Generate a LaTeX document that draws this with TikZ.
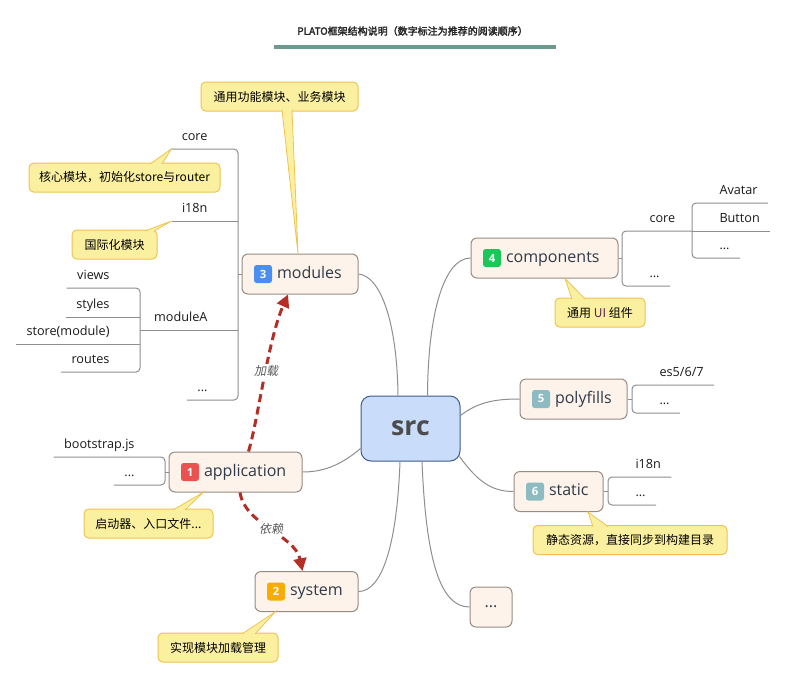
\documentclass[tikz,border=0pt]{standalone}
\usepackage{fontspec}
\setmainfont{Open Sans}
\newfontfamily\cjk{Noto Sans CJK SC}
\newfontfamily\cjkbf[FakeBold=2.5]{Noto Sans CJK SC}
\newfontfamily\cjkit[FakeSlant=0.2]{Noto Sans CJK SC}
\usetikzlibrary{positioning,calc,arrows.meta}

\definecolor{topicfill}{HTML}{FDF3EA}
\definecolor{topicline}{HTML}{978B83}
\definecolor{srcfill}{HTML}{C9DCF9}
\definecolor{srcline}{HTML}{3F5A8C}
\definecolor{notefill}{HTML}{FBF0A0}
\definecolor{noteline}{HTML}{EFC350}
\definecolor{branchgrey}{HTML}{8E8E8E}
\definecolor{linkred}{HTML}{B22E27}
\definecolor{titlebar}{HTML}{6A9990}
\definecolor{inktext}{HTML}{2F3A4A}
\definecolor{badgeA}{HTML}{E9524F}
\definecolor{badgeB}{HTML}{F7AD00}
\definecolor{badgeC}{HTML}{4A8EF2}
\definecolor{badgeD}{HTML}{1CC75A}
\definecolor{badgeE}{HTML}{8CBBC2}

\tikzset{every picture/.style={line width=0.75pt}}
\tikzset{
  topic/.style={draw=topicline, fill=topicfill, rounded corners=4.5pt, minimum height=30pt, inner sep=0pt},
  badge/.style={fill=#1, rounded corners=2pt, minimum size=13.5pt, inner sep=0pt, text=white, font=\fontsize{8.5}{10}\selectfont\bfseries},
  topictext/.style={inner sep=0pt, text height=9pt, text depth=3pt, text=inktext, font=\fontsize{12}{14}\selectfont},
  leaf/.style={inner xsep=7.5pt, inner ysep=6pt, text depth=0pt, text=black!90, font=\fontsize{9.5}{11}\selectfont},
  note/.style={draw=noteline, fill=notefill, rounded corners=3.5pt, minimum height=21.75pt, inner sep=0pt, font=\cjk\fontsize{9}{11}\selectfont},
  pointer/.style={draw=noteline, fill=notefill, line width=0.6pt},
  branch/.style={draw=branchgrey, line width=0.75pt},
  link/.style={draw=linkred, line width=2.25pt, dash pattern=on 6pt off 3.5pt, -{Triangle[length=9.5pt,width=9.5pt]}},
  linklabel/.style={fill=white, inner sep=1pt, text=black!65, font=\cjkit\fontsize{9}{11}\selectfont},
}

\begin{document}
\begin{tikzpicture}[x=0.75pt,y=0.75pt,yscale=-1,xscale=1]
	\useasboundingbox (0,0) rectangle (789,679);

	% title
	\node [font=\cjkbf\fontsize{7.5}{9}\selectfont, text=black!85] (title) at (412.5,31) {PLATO框架结构说明（数字标注为推荐的阅读顺序）};
	\fill [titlebar] (274,45) rectangle (556,49);

	% centre
	\node [draw=srcline, fill=srcfill, rounded corners=7.5pt, minimum width=74.25pt, minimum height=48.75pt, text=black!70, font=\fontsize{20}{24}\selectfont\bfseries] (src) at (410.5,428.5) {src};

	% main topics
	\node [topic, minimum width=87pt] (modules) at (300,274) {};
	\node [badge=badgeC, right=9pt of modules.west] (n3) {3};
	\node [topictext, right=3pt of n3] (modules-t) {modules};

	\node [topic, minimum width=110.25pt] (components) at (544.5,258) {};
	\node [badge=badgeD, right=9pt of components.west] (n4) {4};
	\node [topictext, right=3pt of n4] (components-t) {components};

	\node [topic, minimum width=80.25pt] (polyfills) at (573.5,399) {};
	\node [badge=badgeE, right=9pt of polyfills.west] (n5) {5};
	\node [topictext, right=3pt of n5] (polyfills-t) {polyfills};

	\node [topic, minimum width=66.75pt] (static) at (558.5,491.5) {};
	\node [badge=badgeE, right=9pt of static.west] (n6) {6};
	\node [topictext, right=3pt of n6] (static-t) {static};

	\node [topic, minimum width=99.75pt] (application) at (235.5,472) {};
	\node [badge=badgeA, right=9pt of application.west] (n1) {1};
	\node [topictext, right=3pt of n1] (application-t) {application};

	\node [topic, minimum width=77.25pt] (system) at (306.5,591.5) {};
	\node [badge=badgeB, right=9pt of system.west] (n2) {2};
	\node [topictext, right=3pt of n2] (system-t) {system};

	\node [topic, minimum width=31.5pt, text=inktext, font=\fontsize{12}{14}\selectfont] (dots) at (491,607) {...};

	% src to topics
	\draw [branch] (modules.east) .. controls (380,276) and (397,320) .. ($(src.north)+(-12.5,0)$);
	\draw [branch] (components.west) .. controls (445,258) and (428,310) .. ($(src.north)+(17,0)$);
	\draw [branch] ($(src.east)+(0,-13)$) .. controls (478,402) and (495,399) .. (polyfills.west);
	\draw [branch] ($(src.east)+(-1,28)$) .. controls (478,482) and (492,491.5) .. (static.west);
	\draw [branch] ($(src.south)+(-10.5,0)$) .. controls (397,545) and (382,591.5) .. (system.east);
	\draw [branch] ($(src.south)+(11.5,0)$) .. controls (426,560) and (440,607) .. (dots.west);
	\draw [branch] ($(src.west)+(0,20)$) .. controls (340,466) and (322,472) .. (application.east);

	% modules
	\coordinate (mbr) at (238,274);
	\coordinate (abr) at (140,330);
	\node [leaf, anchor=south east] (mcore) at (218,149) {core};
	\node [leaf, anchor=south east] (mi18n) at (218,221) {i18n};
	\node [leaf, anchor=south east] (mA) at (218,330) {moduleA};
	\node [leaf, anchor=south east] (mdots) at (218,400) {...};
	\draw [branch, rounded corners=3pt] (mcore.south west) -| (mbr) |- (mdots.south west);
	\draw [branch] (mi18n.south west) -- (mi18n.south west -| mbr);
	\draw [branch] (abr) -- (abr -| mbr);
	\draw [branch] (mbr) -- (modules.west);

	\node [leaf, anchor=south east] (aviews) at (120,288) {views};
	\node [leaf, anchor=south east] (astyles) at (120,317) {styles};
	\node [leaf, anchor=south east] (astore) at (120,344) {store(module)};
	\node [leaf, anchor=south east] (aroutes) at (120,372) {routes};
	\draw [branch, rounded corners=3pt] (aviews.south west) -| (abr) |- (aroutes.south west);
	\draw [branch] (astyles.south west) -- (astyles.south west -| abr);
	\draw [branch] (astore.south west) -- (astore.south west -| abr);

	% application
	\coordinate (pbr) at (165,472);
	\node [leaf, anchor=south east] (pboot) at (145,457) {bootstrap.js};
	\node [leaf, anchor=south east] (pdots) at (145,485) {...};
	\draw [branch, rounded corners=3pt] (pboot.south west) -| (pbr) |- (pdots.south west);
	\draw [branch] (pbr) -- (application.west);

	% components
	\coordinate (cbr) at (622,258);
	\coordinate (kbr) at (692,231);
	\node [leaf, anchor=south west] (ccore) at (639,231) {core};
	\node [leaf, anchor=south west] (cdots) at (639,286) {...};
	\draw [branch, rounded corners=3pt] (kbr) -| (cbr) |- (cdots.south east);
	\draw [branch] (components.east) -- (cbr);

	\node [leaf, anchor=south west] (kavatar) at (709,203) {Avatar};
	\node [leaf, anchor=south west] (kbutton) at (709,231) {Button};
	\node [leaf, anchor=south west] (kdots) at (709,258) {...};
	\draw [branch, rounded corners=3pt] (kavatar.south east) -| (kbr) |- (kdots.south east);
	\draw [branch] (kbr) -- (kbutton.south east);

	% polyfills
	\coordinate (fbr) at (632,399);
	\node [leaf, anchor=south west] (fes) at (649,385) {es5/6/7};
	\node [leaf, anchor=south west] (fdots) at (649,413) {...};
	\draw [branch, rounded corners=3pt] (fes.south east) -| (fbr) |- (fdots.south east);
	\draw [branch] (polyfills.east) -- (fbr);

	% static
	\coordinate (sbr) at (608,491.5);
	\node [leaf, anchor=south west] (si18n) at (625,477) {i18n};
	\node [leaf, anchor=south west] (sdots) at (625,505) {...};
	\draw [branch, rounded corners=3pt] (si18n.south east) -| (sbr) |- (sdots.south east);
	\draw [branch] (static.east) -- (sbr);

	% notes
	\node [note, minimum width=117.75pt] (nmod) at (279.5,96.5) {通用功能模块、业务模块};
	\filldraw [pointer] ($(nmod.south)+(2.5,-1.5)$) -- ($(modules.north)+(-2,0)$) -- ($(nmod.south)+(12.5,-1.5)$);

	\node [note, minimum width=143.25pt] (ncore) at (124.5,177.5) {核心模块，初始化store与router};
	\filldraw [pointer] ($(ncore.north)+(25.5,1.5)$) -- (mcore.south west) -- ($(ncore.north)+(37.5,1.5)$);

	\node [note, minimum width=63.75pt] (ni18n) at (114.5,244.5) {国际化模块};
	\filldraw [pointer] ($(ni18n.north)+(30.5,1.5)$) -- (mi18n.south west) -- ($(ni18n.north)+(39.5,1.5)$);

	\node [note, minimum width=96.75pt] (napp) at (148.5,523.5) {启动器、入口文件...};
	\filldraw [pointer] ($(napp.north)+(24.5,1.5)$) -- ($(application.south)+(-32.5,0)$) -- ($(napp.north)+(36.5,1.5)$);

	\node [note, minimum width=90pt] (nsys) at (218,647.5) {实现模块加载管理};
	\filldraw [pointer] ($(nsys.north)+(24,1.5)$) -- ($(system.south)+(-31.5,0)$) -- ($(nsys.north)+(37,1.5)$);

	\node [note, minimum width=67.5pt] (ncomp) at (600,312.5) {通用 {\color[HTML]{5B1A55}UI} 组件};
	\filldraw [pointer] ($(ncomp.north)+(-28,1.5)$) -- ($(components.south)+(20.5,0)$) -- ($(ncomp.north)+(-15,1.5)$);

	\node [note, minimum width=145.5pt] (nstatic) at (630,540) {静态资源，直接同步到构建目录};
	\filldraw [pointer] ($(nstatic.north)+(-37,1.5)$) -- ($(static.south)+(29.5,0)$) -- ($(nstatic.north)+(-22,1.5)$);

	% reading order
	\draw [link] ($(application.north)+(13,0)$) .. controls (258,420) and (268,340) .. ($(modules.south)+(-12,0)$);
	\draw [link] ($(application.south)+(4.5,0)$) .. controls (245,525) and (295,535) .. ($(system.north)+(-4,0)$);
	\node [linklabel] (lload) at (266,371) {加载};
	\node [linklabel] (ldep) at (271,529) {依赖};
\end{tikzpicture}
\end{document}
